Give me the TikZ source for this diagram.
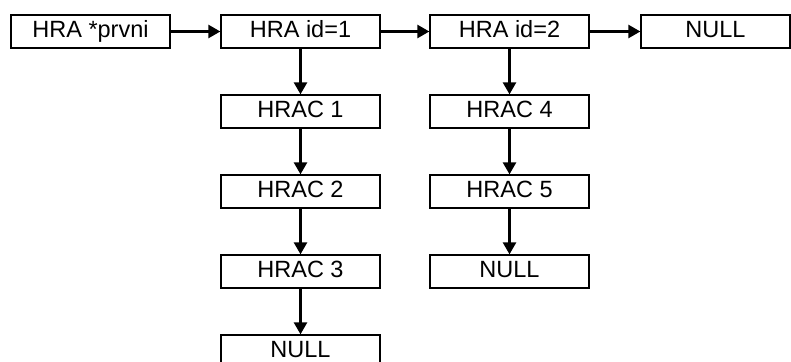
\documentclass[tikz,border=0pt]{standalone}
\usepackage{fontspec}
\setmainfont{Liberation Sans}
\usetikzlibrary{arrows.meta}
\begin{document}
\begin{tikzpicture}[x=1pt,y=-1pt,
  box/.style={draw=black,line width=1.3pt,minimum width=159pt,minimum height=33pt,inner sep=0pt,
    font=\fontsize{23.5}{26}\selectfont,text height=16.8pt,text depth=5.6pt},
  conn/.style={line width=2.6pt,-{Triangle[length=12pt,width=13pt]}}]
\useasboundingbox (0,0) rectangle (791,361);
\clip (0,0) rectangle (791,361);
\node[box] (p) at (90.5,31.5) {HRA *prvni};
\node[box] (h1) at (300.5,31.5) {HRA id=1};
\node[box] (h2) at (509.5,31.5) {HRA id=2};
\node[box,minimum width=149pt] (n0) at (715.5,31.5) {NULL};
\node[box] (a1) at (300.5,111.5) {HRAC 1};
\node[box] (a2) at (300.5,191.5) {HRAC 2};
\node[box] (a3) at (300.5,271.5) {HRAC 3};
\node[box] (n1) at (300.5,351.5) {NULL};
\node[box] (b4) at (509.5,111.5) {HRAC 4};
\node[box] (b5) at (509.5,191.5) {HRAC 5};
\node[box] (n2) at (509.5,271.5) {NULL};
\draw[conn] (p) -- (h1);
\draw[conn] (h1) -- (h2);
\draw[conn] (h2) -- (n0);
\draw[conn] (h1) -- (a1);
\draw[conn] (a1) -- (a2);
\draw[conn] (a2) -- (a3);
\draw[conn] (a3) -- (n1);
\draw[conn] (h2) -- (b4);
\draw[conn] (b4) -- (b5);
\draw[conn] (b5) -- (n2);
\end{tikzpicture}
\end{document}
